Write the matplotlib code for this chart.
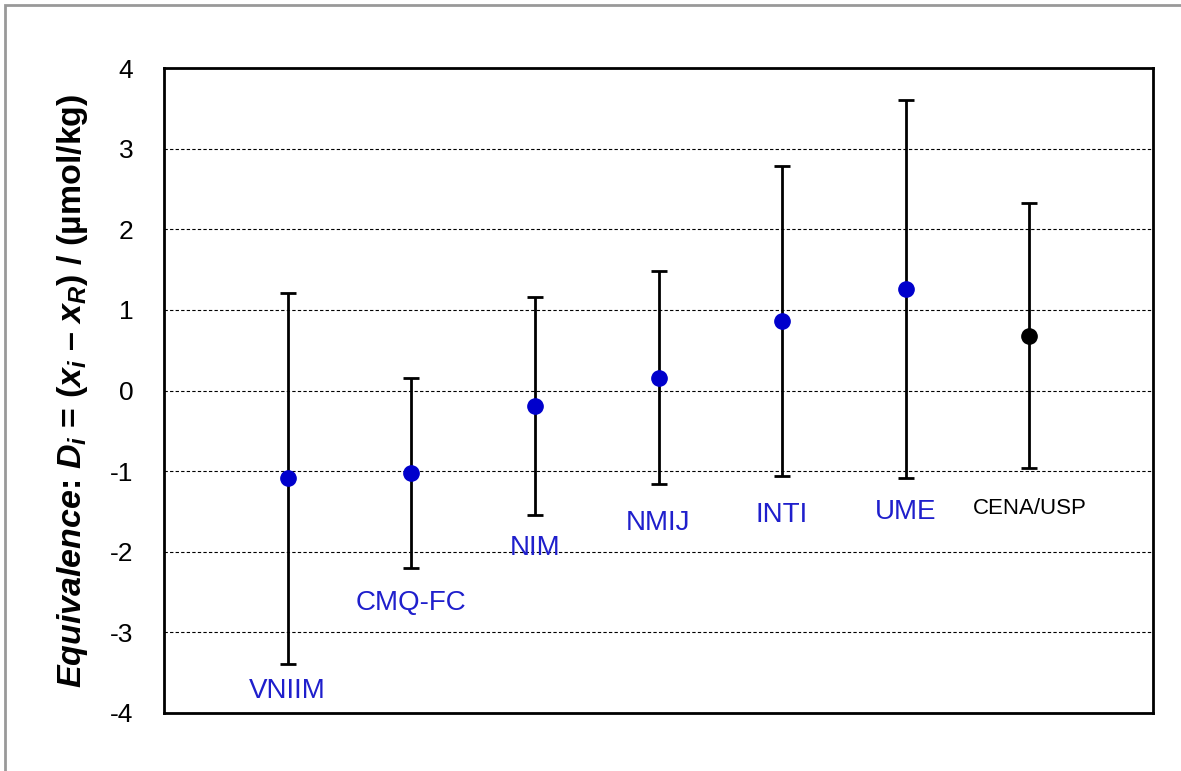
import numpy as np
import matplotlib.pyplot as plt
from matplotlib.patches import Rectangle

plt.rcParams['font.family'] = ['Liberation Sans', 'DejaVu Sans']
plt.rcParams['axes.unicode_minus'] = False
plt.rcParams['mathtext.fontset'] = 'custom'
plt.rcParams['mathtext.it'] = 'Liberation Sans:italic:bold'
plt.rcParams['mathtext.rm'] = 'Liberation Sans:bold'
plt.rcParams['mathtext.bf'] = 'Liberation Sans:bold'

labs = ["VNIIM", "CMQ-FC", "NIM", "NMIJ", "INTI", "UME", "CENA/USP"]
di = [-1.09, -1.02, -0.19, 0.16, 0.86, 1.26, 0.68]
ui = [2.30, 1.18, 1.35, 1.32, 1.92, 2.34, 1.64]
lab_y = [-3.73, -2.64, -1.95, -1.64, -1.54, -1.51, -1.46]
cols = ["#0000cc"] * 6 + ["black"]
lab_cols = ["#1f1fcc"] * 6 + ["black"]
lab_size = [20] * 6 + [16]

fig = plt.figure(figsize=(11.81, 7.71), dpi=100)
ax = fig.add_axes([164 / 1181, 1 - 713 / 771, 989 / 1181, 645 / 771])

x = np.arange(1, len(labs) + 1)
for i in range(len(labs)):
    ax.errorbar(x[i], di[i], yerr=ui[i], fmt='o', color=cols[i], ms=11,
                ecolor='black', elinewidth=2, capsize=6, capthick=2, zorder=3)
    ax.text(x[i], lab_y[i], labs[i], color=lab_cols[i], fontsize=lab_size[i],
            ha='center', va='center')

ax.set_xlim(0, 8)
ax.set_ylim(-4, 4)
ax.set_xticks([])
ax.set_yticks(np.arange(-4, 5, 1))
ax.tick_params(axis='y', length=0, labelsize=19, pad=22)
ax.yaxis.grid(True, linestyle=(0, (3, 2)), color='black', linewidth=0.8)
for s in ax.spines.values():
    s.set_linewidth(2)
ax.set_ylabel(r"$Equivalence$: $D_i$ = ($x_i$ – $x_R$) / (µmol/kg)",
              fontsize=24.5, fontweight='bold', labelpad=14)

# outer chart-area frame (only left/top visible)
fig.add_artist(Rectangle((5 / 1181, -0.1), 1.2, 1.1 - 5 / 771,
                         transform=fig.transFigure, fill=False,
                         edgecolor='#999999', linewidth=2))

fig.savefig("out.png", dpi=100)
